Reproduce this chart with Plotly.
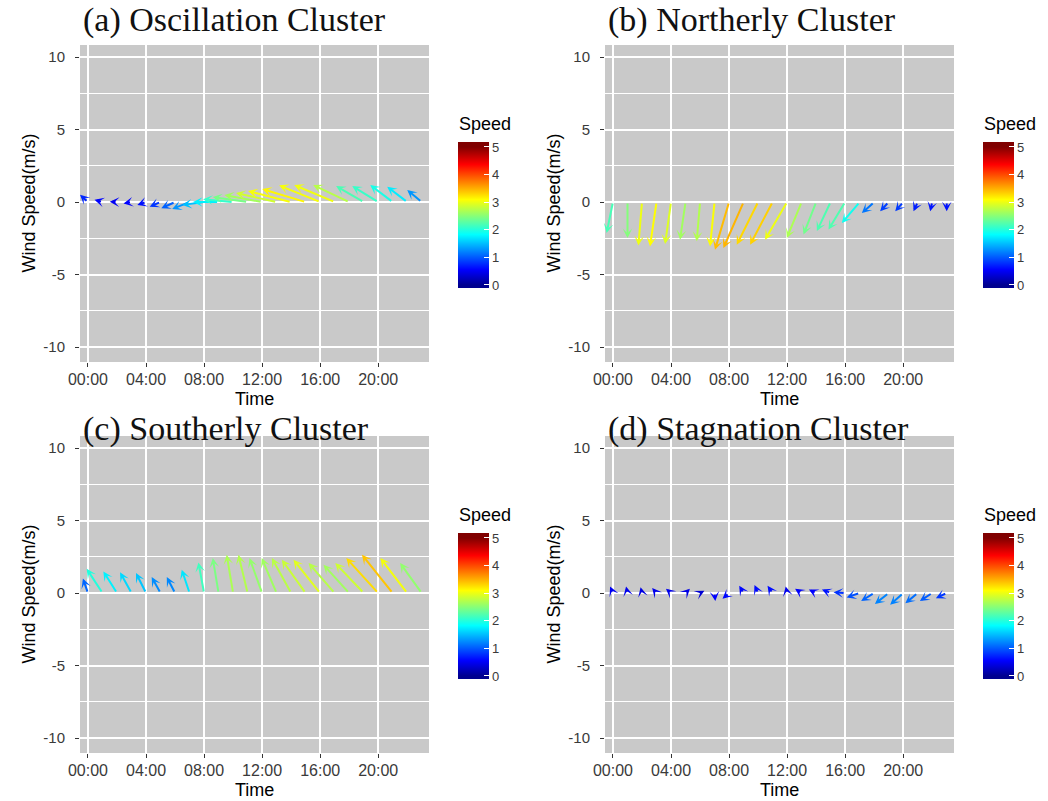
import plotly.graph_objects as go
from plotly.colors import sample_colorscale

# ---- data: hourly mean wind vectors (u = east-west, v = north-south, m/s) ----
hours = list(range(24))

osc_u = [-0.55, -0.55, -0.5, -0.55, -0.6, -0.75, -0.95, -1.2, -1.5, -1.76, -2.07, -2.4,
         -2.6, -2.8, -2.97, -3.0, -2.83, -2.79, -2.48, -1.9, -1.79, -1.55, -1.38, -1.0]
osc_v = [0.5, 0.15, 0.02, -0.1, -0.2, -0.32, -0.43, -0.48, -0.2, 0.0, 0.2, 0.34,
         0.48, 0.62, 0.76, 0.9, 1.15, 1.17, 1.17, 1.1, 1.1, 1.17, 1.05, 0.83]

north_u = [-0.44, 0.0, -0.25, -0.45, -0.41, -0.38, -0.23, -0.31, -0.97, -1.39, -1.47, -1.55,
           -1.52, -1.02, -0.87, -0.95, -1.15, -1.23, -0.85, -0.59, -0.55, -0.29, -0.14, 0.0]
north_v = [-2.14, -2.48, -3.0, -3.06, -2.9, -2.6, -2.7, -3.06, -3.29, -3.17, -2.94, -2.94,
           -2.6, -2.48, -2.23, -2.0, -1.9, -1.45, -0.76, -0.64, -0.64, -0.64, -0.64, -0.64]

south_u = [-0.35, -1.09, -0.94, -0.79, -0.69, -0.61, -0.57, -0.54, -0.39, -0.4, -0.44, -0.63,
           -0.87, -1.03, -1.33, -1.64, -1.84, -1.8, -1.77, -1.96, -2.2, -2.12, -1.85, -1.49]
south_v = [1.0, 1.67, 1.49, 1.43, 1.38, 1.1, 1.1, 1.61, 2.11, 2.41, 2.64, 2.64,
           2.41, 2.41, 2.41, 2.3, 2.3, 2.07, 1.95, 2.07, 2.41, 2.64, 2.41, 2.07]

stag_u = [-0.2, -0.1, -0.1, -0.3, -0.35, 0.3, 0.3, 0.05, -0.45, -0.3, -0.25, -0.35,
          -0.1, -0.45, -0.5, -0.6, -0.8, -0.9, -0.9, -0.95, -0.9, -0.85, -0.85, -0.75]
stag_v = [0.45, 0.45, 0.4, 0.35, 0.3, 0.3, 0.15, -0.55, -0.4, 0.5, 0.55, 0.5,
          0.45, 0.3, 0.25, 0.25, 0.05, -0.3, -0.55, -0.75, -0.8, -0.7, -0.55, -0.35]

panel_titles = ["(a) Oscillation Cluster", "(b) Northerly Cluster",
                "(c) Southerly Cluster", "(d) Stagnation Cluster"]
series = [(osc_u, osc_v), (north_u, north_v), (south_u, south_v), (stag_u, stag_v)]

x_tick_vals = [0, 4, 8, 12, 16, 20]
x_tick_text = ["00:00", "04:00", "08:00", "12:00", "16:00", "20:00"]
y_tick_vals = [-10, -5, 0, 5, 10]
y_tick_text = ["-10", "-5", "0", "5", "10"]
speed_ticks = [0, 1, 2, 3, 4, 5]

# ---- layout geometry (pixels) ----
W, H = 1048, 801
# left, right, top, bottom of each plotting panel
boxes = [(80, 429, 45, 362), (605, 954, 45, 362),
         (80, 429, 436, 753), (605, 954, 436, 753)]
# vertical centre of each panel title
title_y = [20, 20, 429, 429]

JET = [[0.0, "rgb(0,0,143)"], [0.111, "rgb(0,0,255)"], [0.365, "rgb(0,255,255)"],
       [0.619, "rgb(255,255,0)"], [0.873, "rgb(255,0,0)"], [1.0, "rgb(128,0,0)"]]
SPEED_MAX = 5.0

# the legend bar runs a little past the 0..5 limits at both ends
CB_MIN, CB_MAX = -0.11, 5.18
CB_SCALE = [[0.0, JET[0][1]]]
for s, c in JET:
    CB_SCALE.append([(s * SPEED_MAX - CB_MIN) / (CB_MAX - CB_MIN), c])
CB_SCALE.append([1.0, JET[-1][1]])

SANS = "Liberation Sans, Arial, sans-serif"
SERIF = "Liberation Serif, Times New Roman, serif"

fig = go.Figure()
annotations = []
layout_axes = {}

for i, ((u, v), title, (l, r, t, b), ty) in enumerate(zip(series, panel_titles, boxes, title_y)):
    n = i + 1
    xn = "x" if n == 1 else f"x{n}"
    yn = "y" if n == 1 else f"y{n}"
    xkey = "xaxis" if n == 1 else f"xaxis{n}"
    ykey = "yaxis" if n == 1 else f"yaxis{n}"

    layout_axes[xkey] = dict(
        domain=[l / W, r / W], anchor=yn, range=[-0.55, 23.5], automargin=False,
        tickmode="array", tickvals=x_tick_vals, ticktext=x_tick_text,
        showgrid=True, gridcolor="white", gridwidth=1.8, zeroline=False, showline=False,
        ticks="outside", ticklen=4, tickwidth=1.2, tickcolor="#333333",
        ticklabelstandoff=-1,
        tickfont=dict(family=SANS, size=16, color="#3a3a3a"), fixedrange=True,
    )
    layout_axes[ykey] = dict(
        domain=[1 - b / H, 1 - t / H], anchor=xn, range=[-11.03, 10.83], automargin=False,
        tickmode="array", tickvals=y_tick_vals, ticktext=y_tick_text,
        showgrid=True, gridcolor="white", gridwidth=1.6, zeroline=False, showline=False,
        minor=dict(tick0=0, dtick=2.5, showgrid=True, gridcolor="white", gridwidth=1.0),
        ticks="outside", ticklen=4, tickwidth=1.2, tickcolor="#333333",
        ticklabelstandoff=7,
        tickfont=dict(family=SANS, size=15, color="#3a3a3a"), fixedrange=True,
    )

    # colour bar for speed, right of each panel
    cb_left = r + 29
    cb_top = t + 97
    cb_bot = t + 243
    fig.add_trace(go.Scatter(
        x=[-50, -50], y=[0, 0], xaxis=xn, yaxis=yn, mode="markers",
        marker=dict(color=[CB_MIN, CB_MAX], cmin=CB_MIN, cmax=CB_MAX, colorscale=CB_SCALE,
                    size=2, showscale=True,
                    colorbar=dict(
                        x=cb_left / W, xanchor="left", xpad=0,
                        y=1 - ((cb_top + cb_bot) / 2) / H, yanchor="middle", ypad=0,
                        len=(cb_bot - cb_top) / H, lenmode="fraction",
                        thickness=31, thicknessmode="pixels", outlinewidth=0,
                        tickmode="array", tickvals=speed_ticks,
                        ticks="inside", ticklen=5, tickcolor="white", tickwidth=1,
                        tickfont=dict(family=SANS, size=13, color="#3a3a3a"),
                    )),
        hoverinfo="skip", showlegend=False,
    ))
    annotations.append(dict(
        text="Speed", xref="paper", yref="paper", x=(cb_left - 1) / W, y=1 - (t + 79) / H,
        xanchor="left", yanchor="middle", showarrow=False,
        font=dict(family=SANS, size=18, color="black"),
    ))

    # wind arrows: tail at (hour, 0), head at (hour + u, v), coloured by speed
    for h, du, dv in zip(hours, u, v):
        spd = (du ** 2 + dv ** 2) ** 0.5
        col = sample_colorscale(JET, [min(spd / SPEED_MAX, 1.0)])[0]
        annotations.append(dict(
            x=h + du, y=dv, ax=h, ay=0, xref=xn, yref=yn, axref=xn, ayref=yn,
            text="", showarrow=True, arrowhead=3, arrowsize=0.8, arrowwidth=2,
            arrowcolor=col,
        ))

    # panel title
    annotations.append(dict(
        text=title, xref="paper", yref="paper", x=(l + 1) / W, y=1 - ty / H,
        xanchor="left", yanchor="middle", showarrow=False,
        font=dict(family=SERIF, size=34, color="#111111"),
    ))
    # axis titles
    annotations.append(dict(
        text="Time", xref="paper", yref="paper", x=((l + r) / 2) / W, y=1 - (b + 37) / H,
        xanchor="center", yanchor="middle", showarrow=False,
        font=dict(family=SANS, size=18, color="black"),
    ))
    annotations.append(dict(
        text="Wind Speed(m/s)", xref="paper", yref="paper", x=(l - 52) / W,
        y=1 - ((t + b) / 2) / H, xanchor="center", yanchor="middle", showarrow=False,
        textangle=-90, font=dict(family=SANS, size=18, color="black"),
    ))

fig.update_layout(
    width=W, height=H, margin=dict(l=0, r=0, t=0, b=0, autoexpand=False),
    paper_bgcolor="white", plot_bgcolor="#C9C9C9",
    showlegend=False, annotations=annotations, **layout_axes,
)

fig.write_html("out.html")
